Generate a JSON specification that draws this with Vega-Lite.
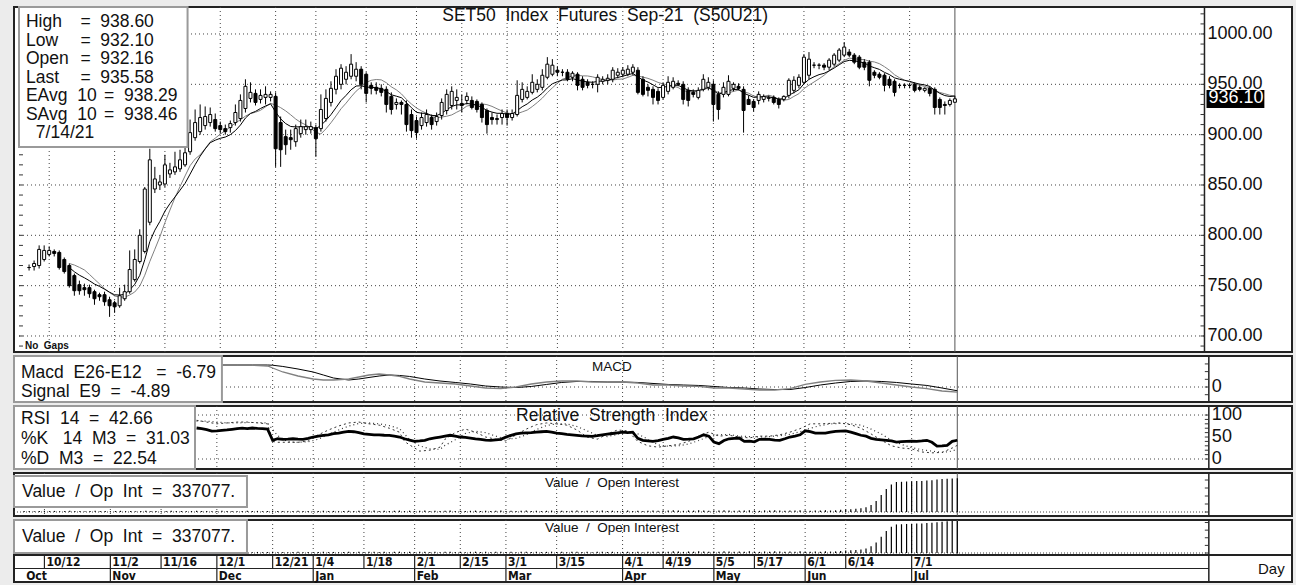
{
"$schema":"https://vega.github.io/schema/vega-lite/v6.json",
"background":"#ececec",
"padding":{"left":12,"top":5,"right":6,"bottom":5},
"spacing":4,
"bounds":"flush",
"config":{"view":{"stroke":"#222","strokeWidth":2,"fill":"#ffffff"},"font":"Liberation Sans"},
"datasets":{
"candles":[
{"i":-4,"o":768,"h":771,"l":765,"c":768,"v":9000},
{"i":-3,"o":769,"h":775,"l":765,"c":772,"v":11000},
{"i":-2,"o":770,"h":790,"l":767,"c":786,"v":8000},
{"i":-1,"o":776,"h":790,"l":774,"c":785,"v":10000},
{"i":0,"o":781,"h":789,"l":779,"c":785,"v":12000},
{"i":1,"o":784,"h":786,"l":779,"c":782,"v":9000},
{"i":2,"o":783,"h":785,"l":766,"c":768,"v":11000},
{"i":3,"o":776,"h":778,"l":762,"c":764,"v":8000},
{"i":4,"o":770,"h":772,"l":748,"c":750,"e":768.0,"s":772.0,"v":10000},
{"i":5,"o":760,"h":762,"l":740,"c":745,"e":763.8,"s":770.5,"v":12000},
{"i":6,"o":751,"h":755,"l":741,"c":745,"e":760.4,"s":768.2,"v":9000},
{"i":7,"o":748,"h":752,"l":740,"c":746,"e":757.8,"s":765.6,"v":11000},
{"i":8,"o":748,"h":751,"l":738,"c":742,"e":754.9,"s":761.2,"v":8000},
{"i":9,"o":744,"h":746,"l":731,"c":737,"e":751.6,"s":756.4,"v":10000},
{"i":10,"o":741,"h":743,"l":735,"c":739,"e":749.3,"s":751.8,"v":12000},
{"i":11,"o":741,"h":744,"l":730,"c":734,"e":746.5,"s":747.0,"v":9000},
{"i":12,"o":736,"h":739,"l":719,"c":730,"e":743.5,"s":743.2,"v":11000},
{"i":13,"o":733,"h":735,"l":723,"c":729,"e":740.9,"s":739.7,"v":8000},
{"i":14,"o":730,"h":748,"l":728,"c":740,"e":740.7,"s":738.7,"v":10000},
{"i":15,"o":737,"h":751,"l":735,"c":744,"e":741.3,"s":738.6,"v":12000},
{"i":16,"o":744,"h":785,"l":742,"c":766,"e":745.8,"s":740.7,"v":9000},
{"i":17,"o":756,"h":786,"l":754,"c":776,"e":751.3,"s":743.7,"v":11000},
{"i":18,"o":774,"h":806,"l":772,"c":800,"e":760.2,"s":749.5,"v":8000},
{"i":19,"o":784,"h":848,"l":782,"c":846,"e":775.8,"s":760.4,"v":10000},
{"i":20,"o":813,"h":886,"l":810,"c":875,"e":793.8,"s":774.0,"v":12000},
{"i":21,"o":846,"h":868,"l":842,"c":856,"e":805.1,"s":786.2,"v":9000},
{"i":22,"o":850,"h":860,"l":845,"c":853,"e":813.8,"s":798.5,"v":11000},
{"i":23,"o":851,"h":880,"l":848,"c":870,"e":824.0,"s":812.6,"v":8000},
{"i":24,"o":861,"h":872,"l":857,"c":865,"e":831.5,"s":825.1,"v":10000},
{"i":25,"o":863,"h":883,"l":860,"c":868,"e":838.1,"s":837.5,"v":12000},
{"i":26,"o":866,"h":885,"l":863,"c":875,"e":844.8,"s":848.4,"v":9000},
{"i":27,"o":870,"h":890,"l":868,"c":882,"e":851.6,"s":859.0,"v":11000},
{"i":28,"o":883,"h":915,"l":880,"c":902,"e":860.8,"s":869.2,"v":8000},
{"i":29,"o":897,"h":925,"l":894,"c":912,"e":870.1,"s":875.8,"v":10000},
{"i":30,"o":903,"h":930,"l":900,"c":917,"e":878.6,"s":880.0,"v":12000},
{"i":31,"o":909,"h":928,"l":905,"c":918,"e":885.8,"s":886.2,"v":9000},
{"i":32,"o":912,"h":927,"l":908,"c":920,"e":892.0,"s":892.9,"v":11000},
{"i":33,"o":915,"h":921,"l":903,"c":906,"e":894.5,"s":896.5,"v":8000},
{"i":34,"o":909,"h":913,"l":901,"c":905,"e":896.4,"s":900.5,"v":10000},
{"i":35,"o":906,"h":910,"l":900,"c":903,"e":897.6,"s":904.0,"v":12000},
{"i":36,"o":907,"h":914,"l":902,"c":911,"e":900.0,"s":907.6,"v":9000},
{"i":37,"o":912,"h":930,"l":909,"c":922,"e":904.0,"s":911.6,"v":11000},
{"i":38,"o":916,"h":940,"l":913,"c":934,"e":909.5,"s":914.8,"v":8000},
{"i":39,"o":926,"h":955,"l":922,"c":948,"e":916.5,"s":918.4,"v":10000},
{"i":40,"o":936,"h":952,"l":932,"c":942,"e":921.1,"s":920.9,"v":12000},
{"i":41,"o":941,"h":945,"l":929,"c":932,"e":923.1,"s":922.3,"v":9000},
{"i":42,"o":935,"h":945,"l":931,"c":939,"e":926.0,"s":924.2,"v":11000},
{"i":43,"o":937,"h":948,"l":930,"c":940,"e":928.5,"s":927.6,"v":8000},
{"i":44,"o":937,"h":943,"l":933,"c":940,"e":930.6,"s":931.1,"v":10000},
{"i":45,"o":938,"h":942,"l":868,"c":886,"e":922.5,"s":929.4,"v":12000},
{"i":46,"o":912,"h":918,"l":868,"c":885,"e":915.7,"s":926.8,"v":9000},
{"i":47,"o":898,"h":905,"l":880,"c":890,"e":911.0,"s":923.6,"v":11000},
{"i":48,"o":897,"h":905,"l":885,"c":895,"e":908.1,"s":919.7,"v":8000},
{"i":49,"o":893,"h":910,"l":888,"c":906,"e":907.7,"s":915.5,"v":10000},
{"i":50,"o":901,"h":915,"l":897,"c":908,"e":907.8,"s":912.1,"v":12000},
{"i":51,"o":905,"h":915,"l":900,"c":908,"e":907.8,"s":909.7,"v":9000},
{"i":52,"o":905,"h":913,"l":901,"c":908,"e":907.8,"s":906.6,"v":11000},
{"i":53,"o":907,"h":910,"l":878,"c":896,"e":905.7,"s":902.2,"v":8000},
{"i":54,"o":906,"h":940,"l":903,"c":925,"e":909.2,"s":900.7,"v":10000},
{"i":55,"o":916,"h":945,"l":913,"c":936,"e":914.1,"s":905.7,"v":12000},
{"i":56,"o":932,"h":953,"l":928,"c":946,"e":919.9,"s":911.8,"v":9000},
{"i":57,"o":945,"h":965,"l":940,"c":958,"e":926.8,"s":918.6,"v":11000},
{"i":58,"o":950,"h":970,"l":945,"c":966,"e":933.9,"s":925.7,"v":8000},
{"i":59,"o":955,"h":968,"l":950,"c":962,"e":939.0,"s":931.3,"v":10000},
{"i":60,"o":958,"h":980,"l":955,"c":970,"e":944.6,"s":937.5,"v":12000},
{"i":61,"o":958,"h":972,"l":953,"c":965,"e":948.3,"s":943.2,"v":10000},
{"i":62,"o":965,"h":968,"l":945,"c":950,"e":948.6,"s":947.4,"v":13000},
{"i":63,"o":960,"h":962,"l":932,"c":941,"e":947.2,"s":951.9,"v":9000},
{"i":64,"o":949,"h":952,"l":940,"c":946,"e":947.0,"s":954.0,"v":12000},
{"i":65,"o":947,"h":952,"l":940,"c":944,"e":946.5,"s":954.8,"v":14000},
{"i":66,"o":946,"h":950,"l":938,"c":942,"e":945.7,"s":954.4,"v":10000},
{"i":67,"o":945,"h":948,"l":922,"c":930,"e":942.8,"s":951.6,"v":13000},
{"i":68,"o":938,"h":942,"l":920,"c":925,"e":939.6,"s":947.5,"v":9000},
{"i":69,"o":930,"h":936,"l":925,"c":932,"e":938.2,"s":944.5,"v":12000},
{"i":70,"o":932,"h":934,"l":920,"c":930,"e":936.7,"s":940.5,"v":14000},
{"i":71,"o":930,"h":934,"l":903,"c":910,"e":931.8,"s":935.0,"v":10000},
{"i":72,"o":920,"h":925,"l":897,"c":904,"e":926.7,"s":930.4,"v":13000},
{"i":73,"o":914,"h":918,"l":896,"c":902,"e":922.2,"s":926.5,"v":9000},
{"i":74,"o":909,"h":922,"l":905,"c":917,"e":921.3,"s":923.6,"v":12000},
{"i":75,"o":912,"h":925,"l":908,"c":920,"e":921.1,"s":921.2,"v":14000},
{"i":76,"o":917,"h":920,"l":905,"c":910,"e":919.1,"s":918.0,"v":10000},
{"i":77,"o":913,"h":922,"l":909,"c":918,"e":918.9,"s":916.8,"v":13000},
{"i":78,"o":919,"h":936,"l":915,"c":932,"e":921.3,"s":917.5,"v":9000},
{"i":79,"o":924,"h":945,"l":920,"c":940,"e":924.7,"s":918.3,"v":12000},
{"i":80,"o":929,"h":948,"l":925,"c":943,"e":928.0,"s":919.6,"v":14000},
{"i":81,"o":934,"h":945,"l":925,"c":937,"e":929.6,"s":922.3,"v":10000},
{"i":82,"o":931,"h":940,"l":922,"c":929,"e":929.5,"s":924.8,"v":13000},
{"i":83,"o":934,"h":942,"l":930,"c":938,"e":931.0,"s":928.4,"v":9000},
{"i":84,"o":934,"h":938,"l":925,"c":927,"e":930.3,"s":929.4,"v":12000},
{"i":85,"o":933,"h":935,"l":922,"c":925,"e":929.3,"s":929.9,"v":14000},
{"i":86,"o":930,"h":932,"l":912,"c":917,"e":927.1,"s":930.6,"v":10000},
{"i":87,"o":924,"h":926,"l":901,"c":910,"e":924.0,"s":929.8,"v":13000},
{"i":88,"o":917,"h":922,"l":910,"c":915,"e":922.4,"s":928.1,"v":9000},
{"i":89,"o":915,"h":920,"l":910,"c":916,"e":921.2,"s":925.7,"v":12000},
{"i":90,"o":917,"h":925,"l":910,"c":921,"e":921.2,"s":923.5,"v":14000},
{"i":91,"o":921,"h":925,"l":909,"c":917,"e":920.4,"s":921.5,"v":10000},
{"i":92,"o":917,"h":925,"l":914,"c":921,"e":920.5,"s":920.7,"v":13000},
{"i":93,"o":920,"h":954,"l":918,"c":939,"e":923.9,"s":920.8,"v":9000},
{"i":94,"o":935,"h":952,"l":932,"c":945,"e":927.7,"s":922.6,"v":12000},
{"i":95,"o":937,"h":948,"l":935,"c":943,"e":930.5,"s":924.4,"v":14000},
{"i":96,"o":942,"h":960,"l":940,"c":952,"e":934.4,"s":927.9,"v":10000},
{"i":97,"o":945,"h":955,"l":942,"c":950,"e":937.2,"s":931.9,"v":13000},
{"i":98,"o":947,"h":965,"l":944,"c":959,"e":941.2,"s":936.3,"v":9000},
{"i":99,"o":957,"h":977,"l":955,"c":970,"e":946.4,"s":941.7,"v":12000},
{"i":100,"o":960,"h":975,"l":958,"c":969,"e":950.5,"s":946.5,"v":14000},
{"i":101,"o":964,"h":968,"l":958,"c":962,"e":952.6,"s":951.0,"v":10000},
{"i":102,"o":962,"h":965,"l":958,"c":962,"e":954.3,"s":955.1,"v":13000},
{"i":103,"o":962,"h":965,"l":953,"c":955,"e":954.4,"s":956.7,"v":9000},
{"i":104,"o":957,"h":963,"l":953,"c":961,"e":955.6,"s":958.3,"v":12000},
{"i":105,"o":960,"h":962,"l":944,"c":949,"e":954.4,"s":958.9,"v":14000},
{"i":106,"o":955,"h":958,"l":944,"c":947,"e":953.1,"s":958.4,"v":10000},
{"i":107,"o":952,"h":955,"l":946,"c":949,"e":952.4,"s":958.3,"v":13000},
{"i":108,"o":950,"h":953,"l":946,"c":950,"e":952.0,"s":957.4,"v":9000},
{"i":109,"o":950,"h":960,"l":942,"c":957,"e":952.9,"s":956.1,"v":12000},
{"i":110,"o":953,"h":958,"l":950,"c":955,"e":953.3,"s":954.7,"v":14000},
{"i":111,"o":954,"h":960,"l":950,"c":956,"e":953.8,"s":954.1,"v":10000},
{"i":112,"o":955,"h":967,"l":952,"c":964,"e":955.6,"s":954.3,"v":13000},
{"i":113,"o":959,"h":966,"l":956,"c":962,"e":956.8,"s":955.0,"v":9000},
{"i":114,"o":960,"h":967,"l":957,"c":964,"e":958.1,"s":955.3,"v":12000},
{"i":115,"o":960,"h":969,"l":958,"c":965,"e":959.4,"s":956.9,"v":14000},
{"i":116,"o":962,"h":970,"l":959,"c":967,"e":960.8,"s":958.9,"v":10000},
{"i":117,"o":964,"h":967,"l":940,"c":942,"e":957.4,"s":958.2,"v":13000},
{"i":118,"o":955,"h":958,"l":938,"c":940,"e":954.2,"s":957.2,"v":9000},
{"i":119,"o":947,"h":950,"l":938,"c":944,"e":952.3,"s":955.9,"v":12000},
{"i":120,"o":945,"h":948,"l":930,"c":937,"e":949.5,"s":954.1,"v":14000},
{"i":121,"o":943,"h":946,"l":930,"c":934,"e":946.7,"s":951.9,"v":12000},
{"i":122,"o":937,"h":952,"l":935,"c":949,"e":947.1,"s":950.4,"v":16000},
{"i":123,"o":943,"h":958,"l":940,"c":952,"e":948.0,"s":949.4,"v":14000},
{"i":124,"o":947,"h":957,"l":945,"c":953,"e":948.9,"s":948.3,"v":18000},
{"i":125,"o":951,"h":954,"l":948,"c":950,"e":949.1,"s":946.8,"v":15000},
{"i":126,"o":950,"h":953,"l":930,"c":935,"e":946.5,"s":943.6,"v":12000},
{"i":127,"o":944,"h":947,"l":928,"c":934,"e":944.2,"s":942.8,"v":16000},
{"i":128,"o":942,"h":945,"l":937,"c":940,"e":943.5,"s":942.8,"v":14000},
{"i":129,"o":937,"h":947,"l":935,"c":944,"e":943.6,"s":942.8,"v":18000},
{"i":130,"o":945,"h":960,"l":943,"c":955,"e":945.7,"s":944.6,"v":15000},
{"i":131,"o":947,"h":957,"l":944,"c":952,"e":946.8,"s":946.4,"v":12000},
{"i":132,"o":950,"h":954,"l":913,"c":930,"e":943.8,"s":944.5,"v":16000},
{"i":133,"o":940,"h":943,"l":915,"c":925,"e":940.4,"s":941.8,"v":14000},
{"i":134,"o":940,"h":952,"l":937,"c":947,"e":941.6,"s":941.2,"v":18000},
{"i":135,"o":940,"h":959,"l":938,"c":953,"e":943.7,"s":941.5,"v":15000},
{"i":136,"o":946,"h":952,"l":943,"c":950,"e":944.8,"s":943.0,"v":12000},
{"i":137,"o":948,"h":951,"l":944,"c":946,"e":945.0,"s":944.2,"v":16000},
{"i":138,"o":945,"h":948,"l":902,"c":924,"e":941.2,"s":942.6,"v":14000},
{"i":139,"o":935,"h":939,"l":930,"c":930,"e":939.2,"s":941.2,"v":18000},
{"i":140,"o":933,"h":935,"l":923,"c":927,"e":937.0,"s":938.4,"v":15000},
{"i":141,"o":934,"h":943,"l":930,"c":940,"e":937.5,"s":937.2,"v":12000},
{"i":142,"o":935,"h":940,"l":932,"c":938,"e":937.6,"s":938.0,"v":16000},
{"i":143,"o":936,"h":939,"l":933,"c":937,"e":937.5,"s":939.2,"v":14000},
{"i":144,"o":937,"h":939,"l":930,"c":932,"e":936.5,"s":937.7,"v":18000},
{"i":145,"o":935,"h":937,"l":926,"c":930,"e":935.3,"s":935.4,"v":15000},
{"i":146,"o":935,"h":939,"l":933,"c":938,"e":935.8,"s":934.2,"v":12000},
{"i":147,"o":939,"h":956,"l":936,"c":954,"e":939.1,"s":935.0,"v":16000},
{"i":148,"o":944,"h":958,"l":941,"c":954,"e":941.8,"s":938.0,"v":14000},
{"i":149,"o":949,"h":960,"l":946,"c":957,"e":944.6,"s":940.7,"v":18000},
{"i":150,"o":952,"h":980,"l":950,"c":977,"e":950.5,"s":945.7,"v":15000},
{"i":151,"o":959,"h":982,"l":955,"c":975,"e":954.9,"s":949.2,"v":12000},
{"i":152,"o":969,"h":972,"l":966,"c":969,"e":957.5,"s":952.3,"v":16000},
{"i":153,"o":969,"h":971,"l":965,"c":969,"e":959.6,"s":955.5,"v":14000},
{"i":154,"o":969,"h":971,"l":964,"c":967,"e":960.9,"s":959.0,"v":18000},
{"i":155,"o":967,"h":976,"l":964,"c":974,"e":963.3,"s":963.4,"v":15000},
{"i":156,"o":970,"h":981,"l":968,"c":979,"e":966.2,"s":967.5,"v":17000},
{"i":157,"o":974,"h":986,"l":972,"c":984,"e":969.4,"s":970.5,"v":22000},
{"i":158,"o":979,"h":992,"l":977,"c":987,"e":972.6,"s":973.8,"v":25000},
{"i":159,"o":982,"h":985,"l":977,"c":979,"e":973.8,"s":976.0,"v":28000},
{"i":160,"o":979,"h":981,"l":970,"c":972,"e":973.5,"s":975.5,"v":32000},
{"i":161,"o":977,"h":979,"l":965,"c":967,"e":972.3,"s":974.7,"v":38000},
{"i":162,"o":972,"h":975,"l":964,"c":967,"e":971.3,"s":974.5,"v":48000},
{"i":163,"o":972,"h":974,"l":948,"c":954,"e":968.2,"s":973.0,"v":70000},
{"i":164,"o":962,"h":964,"l":956,"c":959,"e":966.5,"s":972.2,"v":110000},
{"i":165,"o":960,"h":962,"l":955,"c":957,"e":964.8,"s":970.5,"v":170000},
{"i":166,"o":959,"h":961,"l":943,"c":949,"e":961.9,"s":967.5,"v":230000},
{"i":167,"o":955,"h":958,"l":946,"c":949,"e":959.6,"s":964.0,"v":275000},
{"i":168,"o":953,"h":955,"l":938,"c":942,"e":956.4,"s":959.5,"v":300000},
{"i":169,"o":949,"h":951,"l":946,"c":949,"e":955.0,"s":956.5,"v":302000},
{"i":170,"o":949,"h":951,"l":946,"c":949,"e":953.9,"s":954.2,"v":305000},
{"i":171,"o":949,"h":951,"l":946,"c":949,"e":953.0,"s":952.4,"v":306000},
{"i":172,"o":950,"h":952,"l":942,"c":944,"e":951.4,"s":950.1,"v":309000},
{"i":173,"o":947,"h":949,"l":943,"c":945,"e":950.2,"s":949.2,"v":311000},
{"i":174,"o":944,"h":947,"l":942,"c":946,"e":949.4,"s":947.9,"v":314000},
{"i":175,"o":946,"h":948,"l":938,"c":941,"e":947.9,"s":946.3,"v":318000},
{"i":176,"o":945,"h":947,"l":920,"c":927,"e":944.1,"s":944.1,"v":324000},
{"i":177,"o":935,"h":937,"l":920,"c":927,"e":941.0,"s":941.9,"v":329000},
{"i":178,"o":930,"h":933,"l":920,"c":929,"e":938.8,"s":940.6,"v":333000},
{"i":179,"o":930,"h":936,"l":928,"c":934,"e":937.9,"s":939.1,"v":335000},
{"i":180,"o":932.16,"h":938.6,"l":932.1,"c":935.58,"e":938.29,"s":938.46,"v":337077}
],
"macd":[
{"i":35,"m":28.6,"g":28.6},{"i":38,"m":28.6,"g":28.6},{"i":41,"m":28.4,"g":28.6},{"i":44,"m":27.3,"g":28.6},{"i":45,"m":24.7,"g":28.3},{"i":47,"m":19.5,"g":26.7},{"i":50,"m":14.3,"g":23.4},{"i":53,"m":10.4,"g":19.5},{"i":55,"m":9.1,"g":15.6},{"i":57,"m":9.1,"g":11.7},{"i":60,"m":10.4,"g":9.1},{"i":62,"m":13,"g":10.4},{"i":64,"m":15.6,"g":12.4},{"i":66,"m":16.9,"g":14.3},{"i":68,"m":15.6,"g":15.6},{"i":70,"m":13.7,"g":15},{"i":72,"m":10.4,"g":13.7},{"i":75,"m":6.5,"g":10.4},{"i":78,"m":5.2,"g":7.8},{"i":81,"m":3.9,"g":5.9},{"i":84,"m":1.3,"g":3.9},{"i":87,"m":-1.3,"g":1.3},{"i":90,"m":-2,"g":0},{"i":93,"m":0,"g":-0.7},{"i":96,"m":3.9,"g":0.7},{"i":99,"m":6.5,"g":3.3},{"i":102,"m":7.8,"g":5.9},{"i":105,"m":7.8,"g":7.2},{"i":108,"m":6.5,"g":7.2},{"i":111,"m":6.5,"g":6.5},{"i":114,"m":6.5,"g":6.5},{"i":117,"m":5.2,"g":5.9},{"i":120,"m":2.6,"g":4.6},{"i":123,"m":2.6,"g":3.3},{"i":126,"m":1.3,"g":2.6},{"i":129,"m":0.7,"g":2},{"i":132,"m":-1.3,"g":0.7},{"i":135,"m":-1.3,"g":-0.7},{"i":138,"m":-2.6,"g":-1.3},{"i":141,"m":-3.9,"g":-2.6},{"i":144,"m":-3.9,"g":-3.3},{"i":147,"m":-2,"g":-3.3},{"i":150,"m":3.3,"g":-0.7},{"i":153,"m":6.5,"g":2.6},{"i":156,"m":8.5,"g":5.2},{"i":159,"m":9.1,"g":7.2},{"i":162,"m":7.8,"g":7.8},{"i":165,"m":5.2,"g":7.2},{"i":168,"m":2.6,"g":5.9},{"i":171,"m":0,"g":3.9},{"i":174,"m":-2,"g":2},{"i":177,"m":-5.2,"g":-1.3},{"i":180,"m":-6.79,"g":-4.89}
],
"rsi":[
{"i":30,"r":70.5},{"i":31,"r":69},{"i":32,"r":67},{"i":33,"r":63.6},{"i":34,"r":64},{"i":35,"r":65},{"i":36,"r":66},{"i":37,"r":67.5},{"i":38,"r":69},{"i":39,"r":70},{"i":40,"r":69},{"i":41,"r":70.5},{"i":42,"r":69.5},{"i":43,"r":69},{"i":44,"r":68},{"i":45,"r":42.5},{"i":46,"r":46},{"i":47,"r":44.7},{"i":48,"r":45},{"i":49,"r":46},{"i":50,"r":45},{"i":51,"r":44.7},{"i":52,"r":47},{"i":53,"r":50},{"i":54,"r":52},{"i":55,"r":53.8},{"i":56,"r":55},{"i":57,"r":57.6},{"i":58,"r":59},{"i":59,"r":61},{"i":60,"r":63},{"i":61,"r":62},{"i":62,"r":60},{"i":63,"r":57},{"i":64,"r":56},{"i":65,"r":55},{"i":66,"r":55},{"i":67,"r":54},{"i":68,"r":53.8},{"i":69,"r":52},{"i":70,"r":50},{"i":71,"r":46},{"i":72,"r":43},{"i":73,"r":40},{"i":74,"r":41},{"i":75,"r":42.5},{"i":76,"r":46},{"i":77,"r":48},{"i":78,"r":50},{"i":79,"r":52},{"i":80,"r":54},{"i":81,"r":52},{"i":82,"r":50},{"i":83,"r":49},{"i":84,"r":47.7},{"i":85,"r":46},{"i":86,"r":44.7},{"i":87,"r":43},{"i":88,"r":42.5},{"i":89,"r":43.5},{"i":90,"r":44.7},{"i":91,"r":50},{"i":92,"r":53.8},{"i":93,"r":57},{"i":94,"r":59},{"i":95,"r":59.5},{"i":96,"r":60},{"i":97,"r":61},{"i":98,"r":62},{"i":99,"r":63},{"i":100,"r":61},{"i":101,"r":59},{"i":102,"r":57.6},{"i":103,"r":56},{"i":104,"r":55},{"i":105,"r":53.8},{"i":106,"r":52.5},{"i":107,"r":52},{"i":108,"r":51.6},{"i":109,"r":53},{"i":110,"r":55},{"i":111,"r":56.5},{"i":112,"r":58},{"i":113,"r":59.5},{"i":114,"r":61},{"i":115,"r":60},{"i":116,"r":61},{"i":117,"r":47},{"i":118,"r":42.5},{"i":119,"r":41},{"i":120,"r":40},{"i":121,"r":42},{"i":122,"r":44.7},{"i":123,"r":47},{"i":124,"r":50},{"i":125,"r":48},{"i":126,"r":44.7},{"i":127,"r":45},{"i":128,"r":46},{"i":129,"r":50},{"i":130,"r":55},{"i":131,"r":52},{"i":132,"r":38.6},{"i":133,"r":34.8},{"i":134,"r":42},{"i":135,"r":46},{"i":136,"r":47},{"i":137,"r":47.7},{"i":138,"r":40},{"i":139,"r":40.5},{"i":140,"r":39},{"i":141,"r":44.7},{"i":142,"r":45},{"i":143,"r":44.7},{"i":144,"r":43},{"i":145,"r":42.5},{"i":146,"r":46},{"i":147,"r":50},{"i":148,"r":52},{"i":149,"r":55},{"i":150,"r":64},{"i":151,"r":62},{"i":152,"r":59},{"i":153,"r":59},{"i":154,"r":59},{"i":155,"r":61},{"i":156,"r":63},{"i":157,"r":63.5},{"i":158,"r":64},{"i":159,"r":61},{"i":160,"r":57.6},{"i":161,"r":54},{"i":162,"r":52},{"i":163,"r":47},{"i":164,"r":44.7},{"i":165,"r":43.5},{"i":166,"r":42.5},{"i":167,"r":41},{"i":168,"r":38.6},{"i":169,"r":39.5},{"i":170,"r":40},{"i":171,"r":40.5},{"i":172,"r":40},{"i":173,"r":41},{"i":174,"r":42.5},{"i":175,"r":38},{"i":176,"r":29.5},{"i":177,"r":30},{"i":178,"r":31},{"i":179,"r":40},{"i":180,"r":42.66}
],
"stoch":[
{"i":30,"k":88,"d":86},{"i":32,"k":84,"d":86},{"i":34,"k":80,"d":84},{"i":36,"k":82,"d":82},{"i":38,"k":84,"d":82},{"i":40,"k":84,"d":83},{"i":42,"k":82,"d":83},{"i":44,"k":80,"d":82},{"i":45,"k":40,"d":67},{"i":46,"k":38,"d":53},{"i":48,"k":38,"d":39},{"i":50,"k":38,"d":38},{"i":52,"k":41,"d":39},{"i":54,"k":55,"d":45},{"i":56,"k":66,"d":56},{"i":58,"k":75,"d":66},{"i":60,"k":82,"d":75},{"i":62,"k":84,"d":81},{"i":64,"k":80,"d":82},{"i":66,"k":77,"d":80},{"i":68,"k":70,"d":76},{"i":70,"k":61,"d":69},{"i":71,"k":40,"d":57},{"i":72,"k":32,"d":44},{"i":74,"k":18,"d":30},{"i":76,"k":20,"d":23},{"i":78,"k":27,"d":22},{"i":79,"k":45,"d":31},{"i":81,"k":60,"d":44},{"i":83,"k":68,"d":58},{"i":85,"k":61,"d":63},{"i":87,"k":50,"d":60},{"i":89,"k":45,"d":52},{"i":91,"k":41,"d":45},{"i":93,"k":55,"d":47},{"i":95,"k":68,"d":55},{"i":97,"k":78,"d":67},{"i":99,"k":82,"d":76},{"i":101,"k":80,"d":80},{"i":103,"k":77,"d":80},{"i":105,"k":66,"d":74},{"i":107,"k":50,"d":64},{"i":109,"k":45,"d":54},{"i":111,"k":57,"d":51},{"i":113,"k":66,"d":56},{"i":115,"k":64,"d":62},{"i":117,"k":40,"d":57},{"i":119,"k":30,"d":45},{"i":121,"k":27,"d":32},{"i":123,"k":30,"d":29},{"i":125,"k":33,"d":30},{"i":127,"k":40,"d":34},{"i":129,"k":52,"d":42},{"i":131,"k":61,"d":51},{"i":133,"k":52,"d":55},{"i":135,"k":54,"d":56},{"i":137,"k":50,"d":52},{"i":139,"k":48,"d":51},{"i":141,"k":52,"d":50},{"i":143,"k":52,"d":51},{"i":145,"k":55,"d":53},{"i":147,"k":61,"d":56},{"i":149,"k":69,"d":62},{"i":151,"k":80,"d":70},{"i":153,"k":80,"d":76},{"i":155,"k":81,"d":80},{"i":157,"k":82,"d":81},{"i":159,"k":78,"d":80},{"i":161,"k":70,"d":77},{"i":163,"k":57,"d":68},{"i":165,"k":43,"d":57},{"i":167,"k":30,"d":43},{"i":169,"k":25,"d":33},{"i":171,"k":23,"d":26},{"i":173,"k":16,"d":21},{"i":175,"k":14,"d":18},{"i":177,"k":15,"d":15},{"i":179,"k":25,"d":18},{"i":180,"k":31.03,"d":22.54}
],
"days":[{"i":0,"t":"10/12"},{"i":13,"t":"11/2"},{"i":23,"t":"11/16"},{"i":34,"t":"12/1"},{"i":45,"t":"12/21"},{"i":53,"t":"1/4"},{"i":63,"t":"1/18"},{"i":73,"t":"2/1"},{"i":82,"t":"2/15"},{"i":91,"t":"3/1"},{"i":101,"t":"3/15"},{"i":114,"t":"4/1"},{"i":122,"t":"4/19"},{"i":132,"t":"5/5"},{"i":140,"t":"5/17"},{"i":150,"t":"6/1"},{"i":158,"t":"6/14"},{"i":171,"t":"7/1"}],
"months":[{"i":-4,"t":"Oct"},{"i":13,"t":"Nov"},{"i":34,"t":"Dec"},{"i":53,"t":"Jan"},{"i":73,"t":"Feb"},{"i":91,"t":"Mar"},{"i":114,"t":"Apr"},{"i":132,"t":"May"},{"i":150,"t":"Jun"},{"i":171,"t":"Jul"}],
"pgrid":[{"v":700},{"v":750},{"v":800},{"v":850},{"v":900},{"v":950},{"v":1000}],
"pticks":[{"v":690},{"v":700},{"v":710},{"v":720},{"v":730},{"v":740},{"v":750},{"v":760},{"v":770},{"v":780},{"v":790},{"v":800},{"v":810},{"v":820},{"v":830},{"v":840},{"v":850},{"v":860},{"v":870},{"v":880},{"v":890},{"v":900},{"v":910},{"v":920},{"v":930},{"v":940},{"v":950},{"v":960},{"v":970},{"v":980},{"v":990},{"v":1000},{"v":1010},{"v":1020}],
"plabels":[{"v":700,"t":"700.00"},{"v":750,"t":"750.00"},{"v":800,"t":"800.00"},{"v":850,"t":"850.00"},{"v":900,"t":"900.00"},{"v":950,"t":"950.00"},{"v":1000,"t":"1000.00"}],
"mticks":[{"v":-10},{"v":0},{"v":10},{"v":20},{"v":30}],
"mlabels":[{"v":0,"t":"0"}],
"rticks":[{"v":0},{"v":10},{"v":20},{"v":30},{"v":40},{"v":50},{"v":60},{"v":70},{"v":80},{"v":90},{"v":100}],
"rlabels":[{"v":0,"t":"0"},{"v":50,"t":"50"},{"v":100,"t":"100"}],
"oticks":[{"v":0},{"v":80000},{"v":160000},{"v":240000},{"v":320000}],
"endline":[{"i":180}],
"sep":[{"i":229.6}]
},
"vconcat":[
{
"width":1278,"height":345,
"layer":[
{"data":{"name":"pgrid"},"mark":{"type":"rule","color":"#444","strokeDash":[1,3]},"encoding":{"x":{"datum":-6,"scale":{"domain":[-6,246],"nice":false,"zero":false},"axis":null},"x2":{"datum":229.6},"y":{"field":"v","type":"quantitative","scale":{"domain":[684.1,1026.8],"nice":false,"zero":false},"axis":null}}},
{"data":{"name":"days"},"mark":{"type":"rule","color":"#444","strokeDash":[1,3]},"encoding":{"x":{"field":"i","type":"quantitative","scale":{"domain":[-6,246],"nice":false,"zero":false},"axis":null}}},
{"data":{"name":"endline"},"mark":{"type":"rule","color":"#555","strokeWidth":1},"encoding":{"x":{"field":"i","type":"quantitative","scale":{"domain":[-6,246],"nice":false,"zero":false},"axis":null}}},
{"data":{"name":"sep"},"mark":{"type":"rule","color":"#222","strokeWidth":1.5},"encoding":{"x":{"field":"i","type":"quantitative","scale":{"domain":[-6,246],"nice":false,"zero":false},"axis":null}}},
{"data":{"name":"pticks"},"mark":{"type":"rule","color":"#333","strokeWidth":1},"encoding":{"x":{"datum":228.81,"scale":{"domain":[-6,246],"nice":false,"zero":false},"axis":null},"x2":{"datum":229.6},"y":{"field":"v","type":"quantitative","scale":{"domain":[684.1,1026.8],"nice":false,"zero":false},"axis":null}}},
{"data":{"name":"pticks"},"mark":{"type":"rule","color":"#333","strokeWidth":1},"encoding":{"x":{"datum":-6,"scale":{"domain":[-6,246],"nice":false,"zero":false},"axis":null},"x2":{"datum":-5.21},"y":{"field":"v","type":"quantitative","scale":{"domain":[684.1,1026.8],"nice":false,"zero":false},"axis":null}}},
{"data":{"name":"plabels"},"mark":{"type":"text","align":"left","baseline":"middle","fontSize":18,"color":"#111","font":"Liberation Sans"},"encoding":{"x":{"datum":230.2,"scale":{"domain":[-6,246],"nice":false,"zero":false},"axis":null},"y":{"field":"v","type":"quantitative","scale":{"domain":[684.1,1026.8],"nice":false,"zero":false},"axis":null},"text":{"field":"t"}}},
{"data":{"name":"candles"},"mark":{"type":"line","color":"#808080","strokeWidth":1},"encoding":{"x":{"field":"i","type":"quantitative","scale":{"domain":[-6,246],"nice":false,"zero":false},"axis":null},"y":{"field":"s","type":"quantitative","scale":{"domain":[684.1,1026.8],"nice":false,"zero":false},"axis":null}}},
{"data":{"name":"candles"},"mark":{"type":"line","color":"#000","strokeWidth":1},"encoding":{"x":{"field":"i","type":"quantitative","scale":{"domain":[-6,246],"nice":false,"zero":false},"axis":null},"y":{"field":"e","type":"quantitative","scale":{"domain":[684.1,1026.8],"nice":false,"zero":false},"axis":null}}},
{"data":{"name":"candles"},"mark":{"type":"rule","color":"#000","strokeWidth":1},"encoding":{"x":{"field":"i","type":"quantitative","scale":{"domain":[-6,246],"nice":false,"zero":false},"axis":null},"y":{"field":"l","type":"quantitative","scale":{"domain":[684.1,1026.8],"nice":false,"zero":false},"axis":null},"y2":{"field":"h"}}},
{"data":{"name":"candles"},"mark":{"type":"bar","size":3,"stroke":"#000","strokeWidth":1},"encoding":{"x":{"field":"i","type":"quantitative","scale":{"domain":[-6,246],"nice":false,"zero":false},"axis":null},"y":{"field":"o","type":"quantitative","scale":{"domain":[684.1,1026.8],"nice":false,"zero":false},"axis":null},"y2":{"field":"c"},"fill":{"condition":{"test":"datum.c < datum.o","value":"#000"},"value":"#fff"}}},
{"data":{"values":[{}]},"mark":{"type":"rect","fill":"#fff","stroke":"#9a9a9a","strokeWidth":2},"encoding":{"x":{"datum":-6,"scale":{"domain":[-6,246],"nice":false,"zero":false},"axis":null},"x2":{"datum":27.5},"y":{"datum":887.75,"scale":{"domain":[684.1,1026.8],"nice":false,"zero":false},"axis":null},"y2":{"datum":1026.8}}},
{"data":{"values":[{"t":"High\nLow\nOpen\nLast\nEAvg\u00a0\u00a010\nSAvg\u00a0\u00a010"}]},"mark":{"type":"text","align":"left","baseline":"alphabetic","fontSize":17.5,"lineBreak":"\n","lineHeight":18.5,"color":"#111","font":"Liberation Sans"},"encoding":{"x":{"datum":-4.62,"scale":{"domain":[-6,246],"nice":false,"zero":false},"axis":null},"y":{"datum":1006.66,"scale":{"domain":[684.1,1026.8],"nice":false,"zero":false},"axis":null},"text":{"field":"t"}}},
{"data":{"values":[{"t":"7/14/21"}]},"mark":{"type":"text","align":"left","baseline":"alphabetic","fontSize":17.5,"color":"#111","font":"Liberation Sans"},"encoding":{"x":{"datum":-2.65,"scale":{"domain":[-6,246],"nice":false,"zero":false},"axis":null},"y":{"datum":896.4,"scale":{"domain":[684.1,1026.8],"nice":false,"zero":false},"axis":null},"text":{"field":"t"}}},
{"data":{"values":[{"t":"=\u00a0\u00a0938.60\n=\u00a0\u00a0932.10\n=\u00a0\u00a0932.16\n=\u00a0\u00a0935.58"}]},"mark":{"type":"text","align":"left","baseline":"alphabetic","fontSize":17.5,"lineBreak":"\n","lineHeight":18.5,"color":"#111","font":"Liberation Sans"},"encoding":{"x":{"datum":6.2,"scale":{"domain":[-6,246],"nice":false,"zero":false},"axis":null},"y":{"datum":1006.66,"scale":{"domain":[684.1,1026.8],"nice":false,"zero":false},"axis":null},"text":{"field":"t"}}},
{"data":{"values":[{"t":"=\u00a0\u00a0938.29\n=\u00a0\u00a0938.46"}]},"mark":{"type":"text","align":"left","baseline":"alphabetic","fontSize":17.5,"lineBreak":"\n","lineHeight":18.5,"color":"#111","font":"Liberation Sans"},"encoding":{"x":{"datum":10.9,"scale":{"domain":[-6,246],"nice":false,"zero":false},"axis":null},"y":{"datum":933.15,"scale":{"domain":[684.1,1026.8],"nice":false,"zero":false},"axis":null},"text":{"field":"t"}}},
{"data":{"values":[{"t":"SET50\u00a0\u00a0Index\u00a0\u00a0Futures\u00a0\u00a0Sep-21\u00a0\u00a0(S50U21)"}]},"mark":{"type":"text","align":"center","baseline":"middle","fontSize":17.5,"color":"#111","font":"Liberation Sans"},"encoding":{"x":{"datum":110.5,"scale":{"domain":[-6,246],"nice":false,"zero":false},"axis":null},"y":{"datum":1017.4,"scale":{"domain":[684.1,1026.8],"nice":false,"zero":false},"axis":null},"text":{"field":"t"}}},
{"data":{"values":[{"t":"No\u00a0\u00a0Gaps"}]},"mark":{"type":"text","align":"left","baseline":"middle","fontSize":10,"fontWeight":"bold","color":"#111","font":"Liberation Sans"},"encoding":{"x":{"datum":-4.82,"scale":{"domain":[-6,246],"nice":false,"zero":false},"axis":null},"y":{"datum":690.5,"scale":{"domain":[684.1,1026.8],"nice":false,"zero":false},"axis":null},"text":{"field":"t"}}},
{"data":{"values":[{}]},"mark":{"type":"rect","fill":"#000"},"encoding":{"x":{"datum":230.0,"scale":{"domain":[-6,246],"nice":false,"zero":false},"axis":null},"x2":{"datum":241.5},"y":{"datum":926.5,"scale":{"domain":[684.1,1026.8],"nice":false,"zero":false},"axis":null},"y2":{"datum":944.4}}},
{"data":{"values":[{"t":"936.10"}]},"mark":{"type":"text","align":"left","baseline":"middle","fontSize":18,"color":"#fff","font":"Liberation Sans"},"encoding":{"x":{"datum":230.4,"scale":{"domain":[-6,246],"nice":false,"zero":false},"axis":null},"y":{"datum":936.1,"scale":{"domain":[684.1,1026.8],"nice":false,"zero":false},"axis":null},"text":{"field":"t"}}}
]
},
{
"width":1278,"height":46,
"layer":[
{"data":{"values":[{"v":0}]},"mark":{"type":"rule","color":"#444","strokeDash":[1,3]},"encoding":{"x":{"datum":-6,"scale":{"domain":[-6,246],"nice":false,"zero":false},"axis":null},"x2":{"datum":229.6},"y":{"field":"v","type":"quantitative","scale":{"domain":[-19.5,40.3],"nice":false,"zero":false},"axis":null}}},
{"data":{"name":"days"},"mark":{"type":"rule","color":"#444","strokeDash":[1,3]},"encoding":{"x":{"field":"i","type":"quantitative","scale":{"domain":[-6,246],"nice":false,"zero":false},"axis":null}}},
{"data":{"name":"endline"},"mark":{"type":"rule","color":"#555","strokeWidth":1},"encoding":{"x":{"field":"i","type":"quantitative","scale":{"domain":[-6,246],"nice":false,"zero":false},"axis":null}}},
{"data":{"name":"sep"},"mark":{"type":"rule","color":"#222","strokeWidth":1.5},"encoding":{"x":{"field":"i","type":"quantitative","scale":{"domain":[-6,246],"nice":false,"zero":false},"axis":null}}},
{"data":{"name":"mticks"},"mark":{"type":"rule","color":"#333","strokeWidth":1},"encoding":{"x":{"datum":228.81,"scale":{"domain":[-6,246],"nice":false,"zero":false},"axis":null},"x2":{"datum":229.6},"y":{"field":"v","type":"quantitative","scale":{"domain":[-19.5,40.3],"nice":false,"zero":false},"axis":null}}},
{"data":{"name":"mlabels"},"mark":{"type":"text","align":"left","baseline":"middle","fontSize":18,"color":"#111","font":"Liberation Sans"},"encoding":{"x":{"datum":230.2,"scale":{"domain":[-6,246],"nice":false,"zero":false},"axis":null},"y":{"field":"v","type":"quantitative","scale":{"domain":[-19.5,40.3],"nice":false,"zero":false},"axis":null},"text":{"field":"t"}}},
{"data":{"name":"macd"},"mark":{"type":"line","color":"#000","strokeWidth":1},"encoding":{"x":{"field":"i","type":"quantitative","scale":{"domain":[-6,246],"nice":false,"zero":false},"axis":null},"y":{"field":"g","type":"quantitative","scale":{"domain":[-19.5,40.3],"nice":false,"zero":false},"axis":null}}},
{"data":{"name":"macd"},"mark":{"type":"line","color":"#808080","strokeWidth":1.3},"encoding":{"x":{"field":"i","type":"quantitative","scale":{"domain":[-6,246],"nice":false,"zero":false},"axis":null},"y":{"field":"m","type":"quantitative","scale":{"domain":[-19.5,40.3],"nice":false,"zero":false},"axis":null}}},
{"data":{"values":[{}]},"mark":{"type":"rect","fill":"#fff","stroke":"#9a9a9a","strokeWidth":2},"encoding":{"x":{"datum":-6,"scale":{"domain":[-6,246],"nice":false,"zero":false},"axis":null},"x2":{"datum":35.0},"y":{"datum":-19.5,"scale":{"domain":[-19.5,40.3],"nice":false,"zero":false},"axis":null},"y2":{"datum":40.3}}},
{"data":{"values":[{"t":"Macd\u00a0\u00a0E26-E12\u00a0\u00a0\u00a0=\u00a0\u00a0-6.79\nSignal\u00a0\u00a0E9\u00a0\u00a0=\u00a0\u00a0-4.89"}]},"mark":{"type":"text","align":"left","baseline":"alphabetic","fontSize":17.5,"lineBreak":"\n","lineHeight":19,"color":"#111","font":"Liberation Sans"},"encoding":{"x":{"datum":-4.62,"scale":{"domain":[-6,246],"nice":false,"zero":false},"axis":null},"y":{"datum":11.3,"scale":{"domain":[-19.5,40.3],"nice":false,"zero":false},"axis":null},"text":{"field":"t"}}},
{"data":{"values":[{"t":"MACD"}]},"mark":{"type":"text","align":"center","baseline":"middle","fontSize":13.5,"color":"#111","font":"Liberation Sans"},"encoding":{"x":{"datum":111.9,"scale":{"domain":[-6,246],"nice":false,"zero":false},"axis":null},"y":{"datum":26.65,"scale":{"domain":[-19.5,40.3],"nice":false,"zero":false},"axis":null},"text":{"field":"t"}}}
]
},
{
"width":1278,"height":63,
"layer":[
{"data":{"values":[{"v":0},{"v":100}]},"mark":{"type":"rule","color":"#444","strokeDash":[1,3]},"encoding":{"x":{"datum":-6,"scale":{"domain":[-6,246],"nice":false,"zero":false},"axis":null},"x2":{"datum":229.6},"y":{"field":"v","type":"quantitative","scale":{"domain":[-22.7,120.5],"nice":false,"zero":false},"axis":null}}},
{"data":{"name":"days"},"mark":{"type":"rule","color":"#444","strokeDash":[1,3]},"encoding":{"x":{"field":"i","type":"quantitative","scale":{"domain":[-6,246],"nice":false,"zero":false},"axis":null}}},
{"data":{"name":"endline"},"mark":{"type":"rule","color":"#555","strokeWidth":1},"encoding":{"x":{"field":"i","type":"quantitative","scale":{"domain":[-6,246],"nice":false,"zero":false},"axis":null}}},
{"data":{"name":"sep"},"mark":{"type":"rule","color":"#222","strokeWidth":1.5},"encoding":{"x":{"field":"i","type":"quantitative","scale":{"domain":[-6,246],"nice":false,"zero":false},"axis":null}}},
{"data":{"name":"rticks"},"mark":{"type":"rule","color":"#333","strokeWidth":1},"encoding":{"x":{"datum":228.81,"scale":{"domain":[-6,246],"nice":false,"zero":false},"axis":null},"x2":{"datum":229.6},"y":{"field":"v","type":"quantitative","scale":{"domain":[-22.7,120.5],"nice":false,"zero":false},"axis":null}}},
{"data":{"name":"rlabels"},"mark":{"type":"text","align":"left","baseline":"middle","fontSize":18,"color":"#111","font":"Liberation Sans"},"encoding":{"x":{"datum":230.2,"scale":{"domain":[-6,246],"nice":false,"zero":false},"axis":null},"y":{"field":"v","type":"quantitative","scale":{"domain":[-22.7,120.5],"nice":false,"zero":false},"axis":null},"text":{"field":"t"}}},
{"data":{"name":"stoch"},"mark":{"type":"line","color":"#333","strokeWidth":1.2,"strokeDash":[1,3]},"encoding":{"x":{"field":"i","type":"quantitative","scale":{"domain":[-6,246],"nice":false,"zero":false},"axis":null},"y":{"field":"d","type":"quantitative","scale":{"domain":[-22.7,120.5],"nice":false,"zero":false},"axis":null}}},
{"data":{"name":"stoch"},"mark":{"type":"line","color":"#333","strokeWidth":1,"strokeDash":[2,3]},"encoding":{"x":{"field":"i","type":"quantitative","scale":{"domain":[-6,246],"nice":false,"zero":false},"axis":null},"y":{"field":"k","type":"quantitative","scale":{"domain":[-22.7,120.5],"nice":false,"zero":false},"axis":null}}},
{"data":{"name":"rsi"},"mark":{"type":"line","color":"#000","strokeWidth":2.8},"encoding":{"x":{"field":"i","type":"quantitative","scale":{"domain":[-6,246],"nice":false,"zero":false},"axis":null},"y":{"field":"r","type":"quantitative","scale":{"domain":[-22.7,120.5],"nice":false,"zero":false},"axis":null}}},
{"data":{"values":[{}]},"mark":{"type":"rect","fill":"#fff","stroke":"#9a9a9a","strokeWidth":2},"encoding":{"x":{"datum":-6,"scale":{"domain":[-6,246],"nice":false,"zero":false},"axis":null},"x2":{"datum":29.69},"y":{"datum":-22.7,"scale":{"domain":[-22.7,120.5],"nice":false,"zero":false},"axis":null},"y2":{"datum":120.5}}},
{"data":{"values":[{"t":"RSI\u00a0\u00a014\u00a0\u00a0=\u00a0\u00a042.66\n%K\u00a0\u00a0\u00a014\u00a0\u00a0M3\u00a0\u00a0=\u00a0\u00a031.03\n%D\u00a0\u00a0M3\u00a0\u00a0=\u00a0\u00a022.54"}]},"mark":{"type":"text","align":"left","baseline":"alphabetic","fontSize":17.5,"lineBreak":"\n","lineHeight":20,"color":"#111","font":"Liberation Sans"},"encoding":{"x":{"datum":-4.62,"scale":{"domain":[-6,246],"nice":false,"zero":false},"axis":null},"y":{"datum":78.9,"scale":{"domain":[-22.7,120.5],"nice":false,"zero":false},"axis":null},"text":{"field":"t"}}},
{"data":{"values":[{"t":"Relative\u00a0\u00a0Strength\u00a0\u00a0Index"}]},"mark":{"type":"text","align":"center","baseline":"middle","fontSize":17.5,"color":"#111","font":"Liberation Sans"},"encoding":{"x":{"datum":111.9,"scale":{"domain":[-6,246],"nice":false,"zero":false},"axis":null},"y":{"datum":98.9,"scale":{"domain":[-22.7,120.5],"nice":false,"zero":false},"axis":null},"text":{"field":"t"}}}
]
},
{
"width":1278,"height":43,
"layer":[
{"data":{"values":[{"v":0}]},"mark":{"type":"rule","color":"#444","strokeDash":[1,2]},"encoding":{"x":{"datum":-6,"scale":{"domain":[-6,246],"nice":false,"zero":false},"axis":null},"x2":{"datum":229.6},"y":{"field":"v","type":"quantitative","scale":{"domain":[-40000,390000],"nice":false,"zero":false},"axis":null}}},
{"data":{"name":"days"},"mark":{"type":"rule","color":"#444","strokeDash":[1,3]},"encoding":{"x":{"field":"i","type":"quantitative","scale":{"domain":[-6,246],"nice":false,"zero":false},"axis":null}}},
{"data":{"name":"endline"},"mark":{"type":"rule","color":"#555","strokeWidth":1},"encoding":{"x":{"field":"i","type":"quantitative","scale":{"domain":[-6,246],"nice":false,"zero":false},"axis":null}}},
{"data":{"name":"sep"},"mark":{"type":"rule","color":"#222","strokeWidth":1.5},"encoding":{"x":{"field":"i","type":"quantitative","scale":{"domain":[-6,246],"nice":false,"zero":false},"axis":null}}},
{"data":{"name":"oticks"},"mark":{"type":"rule","color":"#333","strokeWidth":1},"encoding":{"x":{"datum":228.81,"scale":{"domain":[-6,246],"nice":false,"zero":false},"axis":null},"x2":{"datum":229.6},"y":{"field":"v","type":"quantitative","scale":{"domain":[-40000,390000],"nice":false,"zero":false},"axis":null}}},
{"data":{"name":"candles"},"mark":{"type":"rule","color":"#000","strokeWidth":1.2},"encoding":{"x":{"field":"i","type":"quantitative","scale":{"domain":[-6,246],"nice":false,"zero":false},"axis":null},"y":{"field":"v","type":"quantitative","scale":{"domain":[-40000,390000],"nice":false,"zero":false},"axis":null},"y2":{"datum":0}}},
{"data":{"values":[{}]},"mark":{"type":"rect","fill":"#fff","stroke":"#9a9a9a","strokeWidth":2},"encoding":{"x":{"datum":-6,"scale":{"domain":[-6,246],"nice":false,"zero":false},"axis":null},"x2":{"datum":39.94},"y":{"datum":50000,"scale":{"domain":[-40000,390000],"nice":false,"zero":false},"axis":null},"y2":{"datum":360000}}},
{"data":{"values":[{"t":"Value\u00a0\u00a0/\u00a0\u00a0Op\u00a0\u00a0Int\u00a0\u00a0=\u00a0\u00a0337077."}]},"mark":{"type":"text","align":"left","baseline":"alphabetic","fontSize":17.5,"color":"#111","font":"Liberation Sans"},"encoding":{"x":{"datum":-4.42,"scale":{"domain":[-6,246],"nice":false,"zero":false},"axis":null},"y":{"datum":150000,"scale":{"domain":[-40000,390000],"nice":false,"zero":false},"axis":null},"text":{"field":"t"}}},
{"data":{"values":[{"t":"Value\u00a0\u00a0/\u00a0\u00a0Open\u00a0Interest"}]},"mark":{"type":"text","align":"center","baseline":"middle","fontSize":13.5,"color":"#111","font":"Liberation Sans"},"encoding":{"x":{"datum":111.9,"scale":{"domain":[-6,246],"nice":false,"zero":false},"axis":null},"y":{"datum":290000,"scale":{"domain":[-40000,390000],"nice":false,"zero":false},"axis":null},"text":{"field":"t"}}}
]
},
{
"vconcat":[
{
"width":1278,"height":35,
"layer":[
{"data":{"values":[{"v":0}]},"mark":{"type":"rule","color":"#444","strokeDash":[1,2]},"encoding":{"x":{"datum":-6,"scale":{"domain":[-6,246],"nice":false,"zero":false},"axis":null},"x2":{"datum":229.6},"y":{"field":"v","type":"quantitative","scale":{"domain":[-21000,346500],"nice":false,"zero":false},"axis":null}}},
{"data":{"name":"days"},"mark":{"type":"rule","color":"#444","strokeDash":[1,3]},"encoding":{"x":{"field":"i","type":"quantitative","scale":{"domain":[-6,246],"nice":false,"zero":false},"axis":null}}},
{"data":{"name":"endline"},"mark":{"type":"rule","color":"#555","strokeWidth":1},"encoding":{"x":{"field":"i","type":"quantitative","scale":{"domain":[-6,246],"nice":false,"zero":false},"axis":null}}},
{"data":{"name":"sep"},"mark":{"type":"rule","color":"#222","strokeWidth":1.5},"encoding":{"x":{"field":"i","type":"quantitative","scale":{"domain":[-6,246],"nice":false,"zero":false},"axis":null}}},
{"data":{"name":"oticks"},"mark":{"type":"rule","color":"#333","strokeWidth":1},"encoding":{"x":{"datum":228.81,"scale":{"domain":[-6,246],"nice":false,"zero":false},"axis":null},"x2":{"datum":229.6},"y":{"field":"v","type":"quantitative","scale":{"domain":[-21000,346500],"nice":false,"zero":false},"axis":null}}},
{"data":{"name":"candles"},"mark":{"type":"rule","color":"#000","strokeWidth":1.2},"encoding":{"x":{"field":"i","type":"quantitative","scale":{"domain":[-6,246],"nice":false,"zero":false},"axis":null},"y":{"field":"v","type":"quantitative","scale":{"domain":[-21000,346500],"nice":false,"zero":false},"axis":null},"y2":{"datum":0}}},
{"data":{"values":[{}]},"mark":{"type":"rect","fill":"#fff","stroke":"#9a9a9a","strokeWidth":2},"encoding":{"x":{"datum":-6,"scale":{"domain":[-6,246],"nice":false,"zero":false},"axis":null},"x2":{"datum":39.94},"y":{"datum":0,"scale":{"domain":[-21000,346500],"nice":false,"zero":false},"axis":null},"y2":{"datum":346500}}},
{"data":{"values":[{"t":"Value\u00a0\u00a0/\u00a0\u00a0Op\u00a0\u00a0Int\u00a0\u00a0=\u00a0\u00a0337077."}]},"mark":{"type":"text","align":"left","baseline":"alphabetic","fontSize":17.5,"color":"#111","font":"Liberation Sans"},"encoding":{"x":{"datum":-4.42,"scale":{"domain":[-6,246],"nice":false,"zero":false},"axis":null},"y":{"datum":115500,"scale":{"domain":[-21000,346500],"nice":false,"zero":false},"axis":null},"text":{"field":"t"}}},
{"data":{"values":[{"t":"Value\u00a0\u00a0/\u00a0\u00a0Open\u00a0Interest"}]},"mark":{"type":"text","align":"center","baseline":"middle","fontSize":13.5,"color":"#111","font":"Liberation Sans"},"encoding":{"x":{"datum":111.9,"scale":{"domain":[-6,246],"nice":false,"zero":false},"axis":null},"y":{"datum":262500,"scale":{"domain":[-21000,346500],"nice":false,"zero":false},"axis":null},"text":{"field":"t"}}}
]
},
{
"width":1278,"height":27,
"layer":[
{"data":{"values":[{}]},"mark":{"type":"rule","color":"#222","strokeWidth":1.2},"encoding":{"x":{"datum":-6,"scale":{"domain":[-6,246],"nice":false,"zero":false},"axis":null},"x2":{"datum":229.6},"y":{"datum":1,"scale":{"domain":[0,2],"nice":false,"zero":false},"axis":null}}},
{"data":{"name":"sep"},"mark":{"type":"rule","color":"#222","strokeWidth":1.5},"encoding":{"x":{"field":"i","type":"quantitative","scale":{"domain":[-6,246],"nice":false,"zero":false},"axis":null}}},
{"data":{"name":"days"},"mark":{"type":"rule","color":"#222","strokeWidth":1.2},"encoding":{"x":{"field":"i","type":"quantitative","scale":{"domain":[-6,246],"nice":false,"zero":false},"axis":null},"y":{"datum":1,"scale":{"domain":[0,2],"nice":false,"zero":false},"axis":null},"y2":{"datum":2}}},
{"data":{"name":"months"},"transform":[{"filter":"datum.i > 0"}],"mark":{"type":"rule","color":"#222","strokeWidth":1.2},"encoding":{"x":{"field":"i","type":"quantitative","scale":{"domain":[-6,246],"nice":false,"zero":false},"axis":null},"y":{"datum":0,"scale":{"domain":[0,2],"nice":false,"zero":false},"axis":null},"y2":{"datum":1}}},
{"data":{"name":"days"},"mark":{"type":"text","align":"left","baseline":"middle","dx":2,"fontSize":12,"fontWeight":"bold","font":"Liberation Sans Narrow, DejaVu Sans Condensed, Liberation Sans","color":"#111"},"encoding":{"x":{"field":"i","type":"quantitative","scale":{"domain":[-6,246],"nice":false,"zero":false},"axis":null},"y":{"datum":1.48,"scale":{"domain":[0,2],"nice":false,"zero":false},"axis":null},"text":{"field":"t"}}},
{"data":{"name":"months"},"mark":{"type":"text","align":"left","baseline":"middle","dx":2,"fontSize":12,"fontWeight":"bold","font":"Liberation Sans Narrow, DejaVu Sans Condensed, Liberation Sans","color":"#111"},"encoding":{"x":{"field":"i","type":"quantitative","scale":{"domain":[-6,246],"nice":false,"zero":false},"axis":null},"y":{"datum":0.44,"scale":{"domain":[0,2],"nice":false,"zero":false},"axis":null},"text":{"field":"t"}}},
{"data":{"values":[{"t":"Day"}]},"mark":{"type":"text","align":"left","baseline":"middle","fontSize":15,"color":"#111","font":"Liberation Sans"},"encoding":{"x":{"datum":239.3,"scale":{"domain":[-6,246],"nice":false,"zero":false},"axis":null},"y":{"datum":1,"scale":{"domain":[0,2],"nice":false,"zero":false},"axis":null},"text":{"field":"t"}}}
]
}
],
"spacing":0,
"bounds":"flush"
}
]
}
